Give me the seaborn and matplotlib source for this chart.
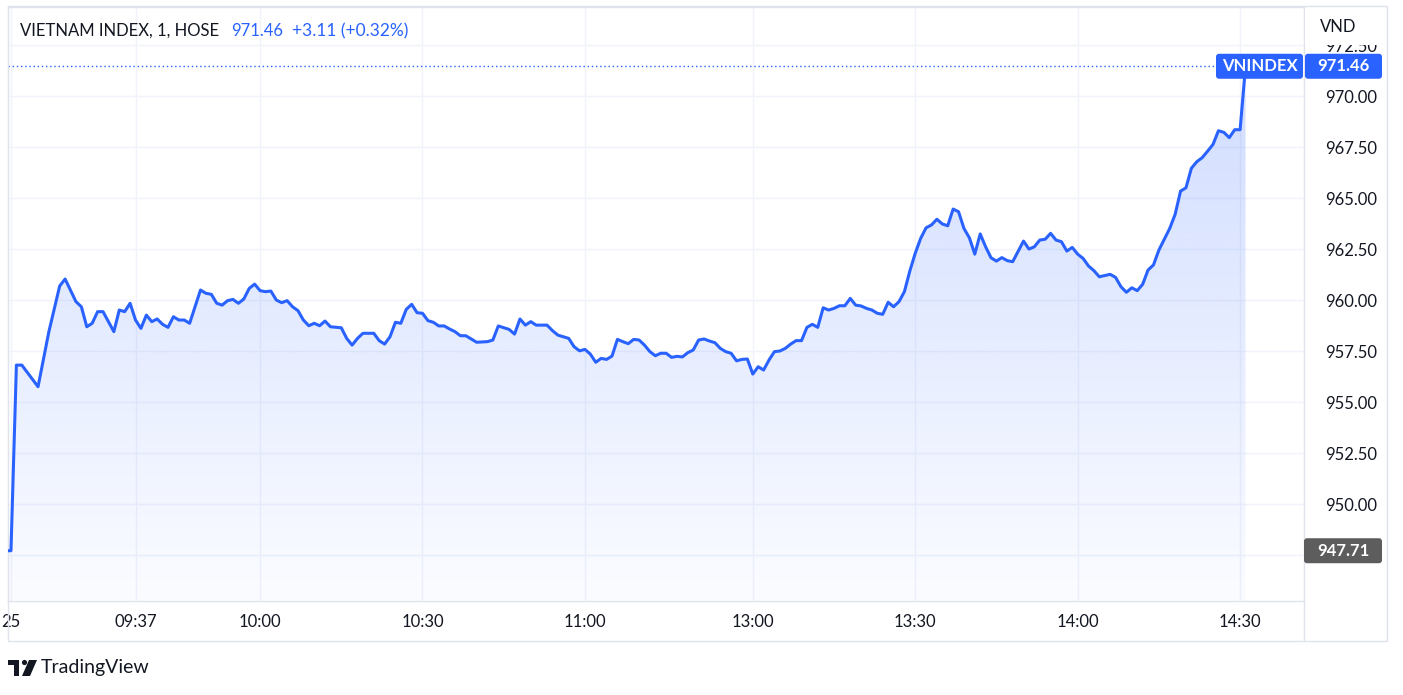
import numpy as np
import pandas as pd
import matplotlib.pyplot as plt
import seaborn as sns
from matplotlib.patches import FancyBboxPatch, Rectangle, Circle, Polygon
from matplotlib.lines import Line2D
from matplotlib.transforms import IdentityTransform

# 1-minute bars of VN-Index
times = [
    "09:13", "09:14", "09:15", "09:16", "09:19", "09:21", "09:23", "09:24", "09:26", "09:27",
    "09:28", "09:29", "09:30", "09:31", "09:32", "09:33", "09:34", "09:35", "09:36", "09:37",
    "09:38", "09:39", "09:40", "09:41", "09:42", "09:43", "09:44", "09:45", "09:46", "09:47",
    "09:49", "09:50", "09:51", "09:52", "09:53", "09:54", "09:55", "09:56", "09:57", "09:58",
    "09:59", "10:00", "10:01", "10:02", "10:03", "10:04", "10:05", "10:06", "10:07", "10:08",
    "10:09", "10:10", "10:11", "10:12", "10:13", "10:15", "10:16", "10:17", "10:18", "10:19",
    "10:21", "10:22", "10:23", "10:24", "10:25", "10:26", "10:27", "10:28", "10:29", "10:30",
    "10:31", "10:32", "10:33", "10:34", "10:35", "10:36", "10:37", "10:38", "10:39", "10:40",
    "10:42", "10:43", "10:44", "10:46", "10:47", "10:48", "10:49", "10:50", "10:51", "10:53",
    "10:54", "10:55", "10:57", "10:58", "10:59", "11:00", "11:01", "11:02", "11:03", "11:04",
    "11:05", "11:06", "11:07", "11:08", "11:09", "11:10", "11:11", "11:12", "11:13", "11:14",
    "11:15", "11:16", "11:17", "11:18", "11:19", "11:20", "11:21", "11:22", "11:23", "11:24",
    "11:25", "11:26", "11:27", "11:28", "11:29", "11:30",
    "13:00", "13:01", "13:02", "13:03", "13:04", "13:05", "13:06", "13:07", "13:08", "13:09",
    "13:10", "13:11", "13:12", "13:13", "13:14", "13:15", "13:16", "13:17", "13:18", "13:19",
    "13:20", "13:21", "13:22", "13:23", "13:24", "13:25", "13:26", "13:27", "13:28", "13:29",
    "13:30", "13:31", "13:32", "13:33", "13:34", "13:35", "13:36", "13:37", "13:38", "13:39",
    "13:40", "13:41", "13:42", "13:43", "13:44", "13:45", "13:46", "13:47", "13:48", "13:50",
    "13:51", "13:52", "13:53", "13:54", "13:55", "13:56", "13:57", "13:58", "13:59", "14:00",
    "14:01", "14:02", "14:03", "14:04", "14:06", "14:07", "14:08", "14:09", "14:10", "14:11",
    "14:12", "14:13", "14:14", "14:15", "14:16", "14:17", "14:18", "14:19", "14:20", "14:21",
    "14:22", "14:23", "14:24", "14:25", "14:26", "14:27", "14:28", "14:29", "14:30", "14:45",
]
values = [
    947.71, 947.71, 956.81, 956.81, 955.75, 958.45, 960.69, 961.03, 959.92, 959.67,
    958.69, 958.86, 959.43, 959.43, 958.94, 958.45, 959.51, 959.43, 959.84, 959.02,
    958.61, 959.26, 958.94, 959.07, 958.81, 958.66, 959.18, 959.02, 959.02, 958.86,
    960.49, 960.33, 960.28, 959.84, 959.75, 959.97, 960.03, 959.84, 960.05, 960.57,
    960.78, 960.46, 960.41, 960.44, 960.00, 959.87, 959.97, 959.67, 959.48, 959.02,
    958.74, 958.86, 958.74, 958.97, 958.69, 958.64, 958.12, 957.79, 958.12, 958.37,
    958.37, 958.01, 957.84, 958.20, 958.91, 958.86, 959.54, 959.79, 959.38, 959.35,
    958.99, 958.91, 958.73, 958.73, 958.58, 958.45, 958.25, 958.25, 958.09, 957.93,
    957.96, 958.04, 958.73, 958.56, 958.33, 959.07, 958.77, 958.94, 958.77, 958.77,
    958.50, 958.28, 958.12, 957.71, 957.51, 957.58, 957.35, 956.95, 957.14, 957.09,
    957.25, 958.07, 957.96, 957.86, 958.07, 958.04, 957.79, 957.47, 957.27, 957.39,
    957.39, 957.19, 957.24, 957.21, 957.42, 957.55, 958.04, 958.09, 957.99, 957.91,
    957.63, 957.47, 957.39, 957.02, 957.09, 957.11,
    956.37, 956.73, 956.57, 957.06, 957.47, 957.50, 957.63, 957.84, 958.01, 958.01,
    958.66, 958.81, 958.66, 959.62, 959.51, 959.59, 959.72, 959.72, 960.08, 959.75,
    959.71, 959.59, 959.51, 959.35, 959.30, 959.89, 959.67, 959.92, 960.41, 961.42,
    962.29, 963.02, 963.54, 963.68, 963.96, 963.73, 963.64, 964.46, 964.33, 963.51,
    963.05, 962.25, 963.24, 962.61, 962.07, 961.91, 962.08, 961.93, 961.88, 962.89,
    962.50, 962.61, 962.94, 962.98, 963.27, 962.94, 962.86, 962.40, 962.58, 962.25,
    962.04, 961.67, 961.44, 961.14, 961.26, 961.11, 960.65, 960.38, 960.60, 960.46,
    960.77, 961.47, 961.72, 962.45, 962.98, 963.51, 964.20, 965.34, 965.50, 966.46,
    966.78, 966.98, 967.30, 967.63, 968.30, 968.22, 967.96, 968.35, 968.35, 971.46,
]

tick_times = ["09:14", "09:37", "10:00", "10:30", "11:00", "13:00", "13:30", "14:00", "14:30"]
tick_labels = ["25", "09:37", "10:00", "10:30", "11:00", "13:00", "13:30", "14:00", "14:30"]
price_ticks = [947.5, 950.0, 952.5, 955.0, 957.5, 960.0, 962.5, 965.0, 967.5, 970.0, 972.5]

last_price = 971.46
change = 3.11
change_pct = 0.32
ref_price = 947.71

BLUE = "#2962ff"
TEXT = "#131722"
GRID = "#f0f3fa"
BORDER = "#e0e3eb"


def bar_index(t):
    # TradingView spaces bars evenly and skips the lunch break / ATC gap
    h, m = map(int, t.split(":"))
    mins = h * 60 + m
    if mins <= 11 * 60 + 30:
        return mins - (9 * 60 + 15)
    if mins <= 14 * 60 + 30:
        return 136 + mins - 13 * 60
    return 227


df = pd.DataFrame({"time": times, "value": values})
df["idx"] = df["time"].map(bar_index)

sns.set_style("white")
plt.rcParams["font.family"] = ["Lato", "DejaVu Sans"]

W, H = 1403, 695
fig = plt.figure(figsize=(W / 100, H / 100), dpi=100)
fig.patch.set_facecolor("white")
ax = fig.add_axes([8 / W, 1 - 600.5 / H, (1304 - 8) / W, (600.5 - 6.5) / H])

x_lo, x_hi = -1.55, 237.8
y_lo, y_hi = 945.27, 974.39

# gradient area under the line
fill = ax.fill_between(df["idx"], df["value"], y_lo, color="none", linewidth=0)
grad = np.zeros((256, 1, 4))
grad[:, 0, 0] = 41 / 255
grad[:, 0, 1] = 98 / 255
grad[:, 0, 2] = 1.0
grad[:, 0, 3] = np.linspace(0.02, 0.22, 256)
img = ax.imshow(grad, extent=[df["idx"].min(), df["idx"].max(), y_lo, df["value"].max()],
                origin="lower", aspect="auto", zorder=1)
img.set_clip_path(fill.get_paths()[0], transform=ax.transData)

sns.lineplot(data=df, x="idx", y="value", ax=ax, color=BLUE, linewidth=2.2, zorder=3)

ax.axhline(last_price, color=BLUE, linestyle=(0, (1, 2)), linewidth=1, zorder=2)

ax.set_xlim(x_lo, x_hi)
ax.set_ylim(y_lo, y_hi)
ax.set_xlabel("")
ax.set_ylabel("")

ax.set_xticks([bar_index(t) for t in tick_times])
ax.set_xticklabels(tick_labels)
ax.set_yticks(price_ticks)
# the 947.50 label sits under the grey price tag, so it is left blank
ax.set_yticklabels(["" if abs(p - ref_price) < 1 else f"{p:.2f}" for p in price_ticks])
ax.yaxis.tick_right()
ax.tick_params(axis="y", length=0, pad=15, labelsize=12, labelcolor=TEXT)
ax.tick_params(axis="x", length=0, pad=10, labelsize=12, labelcolor=TEXT)
ax.grid(True, color=GRID, linewidth=1)
ax.set_axisbelow(True)
for s in ax.spines.values():
    s.set_color(BORDER)
    s.set_linewidth(1)


# outer widget frame (time axis and price axis strips)
def fy(y):
    return 1 - y / H


for xs, ys in [([8 / W, 1387 / W], [fy(641), fy(641)]),
               ([1387 / W, 1387 / W], [fy(641), fy(6)]),
               ([8 / W, 1387 / W], [fy(6), fy(6)]),
               ([1304 / W, 1304 / W], [fy(641), fy(600)]),
               ([8 / W, 8 / W], [fy(641), fy(600)])]:
    fig.add_artist(Line2D(xs, ys, color=BORDER, linewidth=1))

ident = IdentityTransform()

# header of price scale hides the top of the 972.50 label
fig.add_artist(Rectangle((1305, H - 44.5), 81, 37, transform=ident,
                         facecolor="white", edgecolor="none", zorder=4))
fig.text(1320, H - 27, "VND", transform=ident, ha="left", va="center",
         fontsize=12, color=TEXT, zorder=5)

# title line
fig.text(20, H - 31, "VIETNAM INDEX, 1, HOSE", transform=ident, ha="left", va="center",
         fontsize=12, color=TEXT)
fig.text(231, H - 31, f"{last_price:.2f}", transform=ident, ha="left", va="center",
         fontsize=12, color=BLUE)
fig.text(292, H - 31, f"+{change:.2f} (+{change_pct:.2f}%)", transform=ident,
         ha="left", va="center", fontsize=12.5, color=BLUE)


def price_tag(x0, x1, value, text, color):
    y = ax.transData.transform((0, value))[1]
    h = 25
    fig.add_artist(FancyBboxPatch((x0, y - h / 2), x1 - x0, h,
                                  boxstyle="round,pad=0,rounding_size=3",
                                  transform=ident, facecolor=color,
                                  edgecolor="none", zorder=6))
    fig.text((x0 + x1) / 2, y, text, transform=ident, ha="center", va="center",
             fontsize=12, fontweight="bold", color="white", zorder=7)


price_tag(1216, 1303, last_price, "VNINDEX", BLUE)
price_tag(1305, 1382, last_price, f"{last_price:.2f}", BLUE)
price_tag(1304, 1382, ref_price, f"{ref_price:.2f}", "#5d5d5d")

# TradingView logo
logo = "#131722"
fig.add_artist(Rectangle((8, H - 665), 11, 5, transform=ident, facecolor=logo, edgecolor="none"))
fig.add_artist(Rectangle((13.5, H - 676), 5, 16, transform=ident, facecolor=logo, edgecolor="none"))
fig.add_artist(Circle((24.5, H - 662.5), 2.6, transform=ident, facecolor=logo, edgecolor="none"))
fig.add_artist(Polygon([(29, H - 660), (37, H - 660), (30, H - 676), (22, H - 676)],
                       closed=True, transform=ident, facecolor=logo, edgecolor="none"))
fig.text(41, H - 668, "TradingView", transform=ident, ha="left", va="center",
         fontsize=14, color=TEXT)

plt.savefig("out.png", dpi=100)
